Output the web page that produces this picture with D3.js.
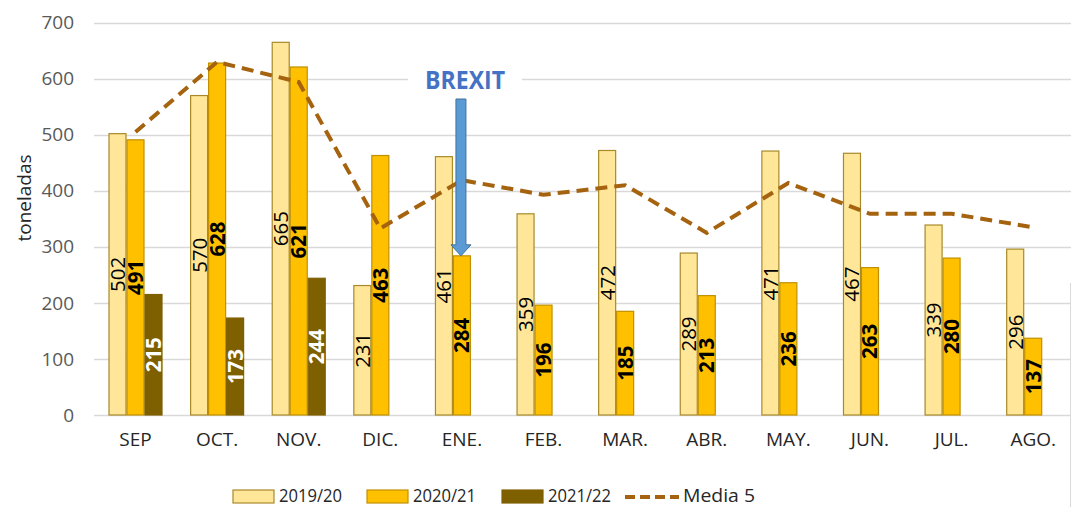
<!DOCTYPE html>
<html>
<head>
<meta charset="utf-8">
<script src="https://cdn.jsdelivr.net/npm/d3@7"></script>
<style>
  body { margin: 0; background: #fff; }
  svg { display: block; font-family: "Open Sans", sans-serif; }
</style>
</head>
<body>
<div id="chart"></div>
<script>
// data
const months = ["SEP", "OCT.", "NOV.", "DIC.", "ENE.", "FEB.", "MAR.", "ABR.", "MAY.", "JUN.", "JUL.", "AGO."];
const seriesNames = ["2019/20", "2020/21", "2021/22"];
const v1920 = [502, 570, 665, 231, 461, 359, 472, 289, 471, 467, 339, 296];
const v2021 = [491, 628, 621, 463, 284, 196, 185, 213, 236, 263, 280, 137];
const v2122 = [215, 173, 244, null, null, null, null, null, null, null, null, null];
const media5 = [505, 630, 594, 333, 419, 393, 410, 325, 414, 359, 359, 335];
const yTicks = [0, 100, 200, 300, 400, 500, 600, 700];

const svgwidth = 1071;
const svgheight = 507;

var svg = d3.select("#chart")
  .append("svg")
  .attr("width", svgwidth)
  .attr("height", svgheight);

// scales
var x = d3.scaleBand()
  .domain(months)
  .range([94.7, 1074])
  .padding(0);

var xSub = d3.scaleBand()
  .domain(seriesNames)
  .range([-27, 27]);

var y = d3.scaleLinear()
  .domain([0, 700])
  .range([415, 22.7]);

var center = m => x(m) + x.bandwidth() / 2;

// cut-off title remnant at the top
svg.append("text")
  .attr("x", 838)
  .attr("y", -4)
  .attr("text-anchor", "middle")
  .attr("font-size", 20)
  .attr("font-weight", "bold")
  .attr("fill", "#262626")
  .text("(t)");

// gridlines
svg.append("g")
  .selectAll("line")
  .data(yTicks)
  .enter()
  .append("line")
  .attr("x1", 94)
  .attr("x2", svgwidth)
  .attr("y1", d => Math.round(y(d)) + 0.5)
  .attr("y2", d => Math.round(y(d)) + 0.5)
  .attr("stroke", "#d9d9d9")
  .attr("stroke-width", 1.3);

// y axis labels
var left = d3.axisLeft(y).tickValues(yTicks).tickSize(0).tickPadding(0);
var yAxis = svg.append("g")
  .attr("transform", "translate(74,0)")
  .call(left);
yAxis.select(".domain").remove();
yAxis.selectAll("text")
  .attr("font-size", 19)
  .attr("font-family", "'Open Sans', sans-serif")
  .attr("fill", "#595959");

svg.append("text")
  .attr("transform", "translate(31,198) rotate(-90)")
  .attr("text-anchor", "middle")
  .attr("font-size", 19)
  .attr("fill", "#262626")
  .text("toneladas");

// x axis labels
var bottom = d3.axisBottom(x).tickSize(0).tickPadding(0);
var xAxis = svg.append("g")
  .attr("transform", "translate(0,432)")
  .call(bottom);
xAxis.select(".domain").remove();
xAxis.selectAll("text")
  .attr("font-size", 19)
  .attr("font-family", "'Open Sans', sans-serif")
  .attr("fill", "#262626");

// bars
const seriesStyle = {
  "2019/20": { fill: "#ffe699", stroke: "#a88a2a", label: "#000", weight: "normal" },
  "2020/21": { fill: "#ffc000", stroke: "#c09000", label: "#000", weight: "bold" },
  "2021/22": { fill: "#7f6000", stroke: "#7f6000", label: "#fff", weight: "bold" }
};
const seriesValues = [v1920, v2021, v2122];

var bars = [];
seriesNames.forEach(function(s, i) {
  months.forEach(function(m, j) {
    if (seriesValues[i][j] != null) bars.push({ series: s, month: m, value: seriesValues[i][j] });
  });
});

svg.append("g")
  .selectAll("rect")
  .data(bars)
  .enter()
  .append("rect")
  .attr("x", d => center(d.month) + xSub(d.series) + 0.5)
  .attr("y", d => y(d.value))
  .attr("width", xSub.bandwidth() - 1)
  .attr("height", d => y(0) - y(d.value))
  .attr("fill", d => seriesStyle[d.series].fill)
  .attr("stroke", d => seriesStyle[d.series].stroke)
  .attr("stroke-width", 1.2);

// bar labels, rotated and centred in the bar
svg.append("g")
  .selectAll("text")
  .data(bars)
  .enter()
  .append("text")
  .attr("transform", d => {
    var cx = center(d.month) + xSub(d.series) + xSub.bandwidth() / 2;
    var cy = (y(d.value) + y(0)) / 2;
    return `translate(${cx},${cy}) rotate(-90)`;
  })
  .attr("text-anchor", "middle")
  .attr("dy", "0.36em")
  .attr("font-size", 20.5)
  .attr("font-weight", d => seriesStyle[d.series].weight)
  .attr("fill", d => seriesStyle[d.series].label)
  .text(d => d.value);

// Media 5 line
var line = d3.line()
  .x((d, i) => center(months[i]))
  .y(d => y(d));

svg.append("path")
  .datum(media5)
  .attr("d", line)
  .attr("fill", "none")
  .attr("stroke", "#a5630f")
  .attr("stroke-width", 4)
  .attr("stroke-dasharray", "12,7");

// BREXIT annotation
var bx = center("ENE.") - 1;
var tipY = y(v2021[4]);
svg.append("rect")
  .attr("x", 408)
  .attr("y", 66)
  .attr("width", 114)
  .attr("height", 28)
  .attr("fill", "#fff");
svg.append("text")
  .attr("x", 465)
  .attr("y", 89)
  .attr("text-anchor", "middle")
  .attr("font-size", 25)
  .attr("font-weight", "bold")
  .attr("fill", "#4472c4")
  .attr("textLength", 80)
  .attr("lengthAdjust", "spacingAndGlyphs")
  .text("BREXIT");

svg.append("path")
  .attr("d", `M${bx - 5},99 H${bx + 5} V${tipY - 11} H${bx + 10} L${bx},${tipY} L${bx - 10},${tipY - 11} H${bx - 5} Z`)
  .attr("fill", "#5b9bd5")
  .attr("stroke", "#41719c")
  .attr("stroke-width", 1);

// right frame edge
svg.append("line")
  .attr("x1", 1070.5).attr("x2", 1070.5)
  .attr("y1", 283).attr("y2", svgheight)
  .attr("stroke", "#d9d9d9")
  .attr("stroke-width", 1);

// legend
const legendItems = [
  { name: "2019/20", x: 233, type: "bar", len: 63 },
  { name: "2020/21", x: 367, type: "bar", len: 63 },
  { name: "2021/22", x: 502, type: "bar", len: 63 },
  { name: "Media 5", x: 625, type: "line", len: 72 }
];
var legend = svg.append("g");
legendItems.forEach(function(d) {
  if (d.type === "bar") {
    legend.append("rect")
      .attr("x", d.x)
      .attr("y", 490)
      .attr("width", 41)
      .attr("height", 13)
      .attr("fill", seriesStyle[d.name].fill)
      .attr("stroke", seriesStyle[d.name].stroke)
      .attr("stroke-width", 1.2);
  } else {
    legend.append("line")
      .attr("x1", d.x).attr("x2", d.x + 54)
      .attr("y1", 497).attr("y2", 497)
      .attr("stroke", "#a5630f")
      .attr("stroke-width", 4)
      .attr("stroke-dasharray", "10,5");
  }
  legend.append("text")
    .attr("x", d.type === "bar" ? d.x + 46 : d.x + 58)
    .attr("y", 502)
    .attr("font-size", 18)
    .attr("fill", "#262626")
    .attr("textLength", d.len)
    .attr("lengthAdjust", "spacingAndGlyphs")
    .text(d.name);
});
</script>
</body>
</html>
